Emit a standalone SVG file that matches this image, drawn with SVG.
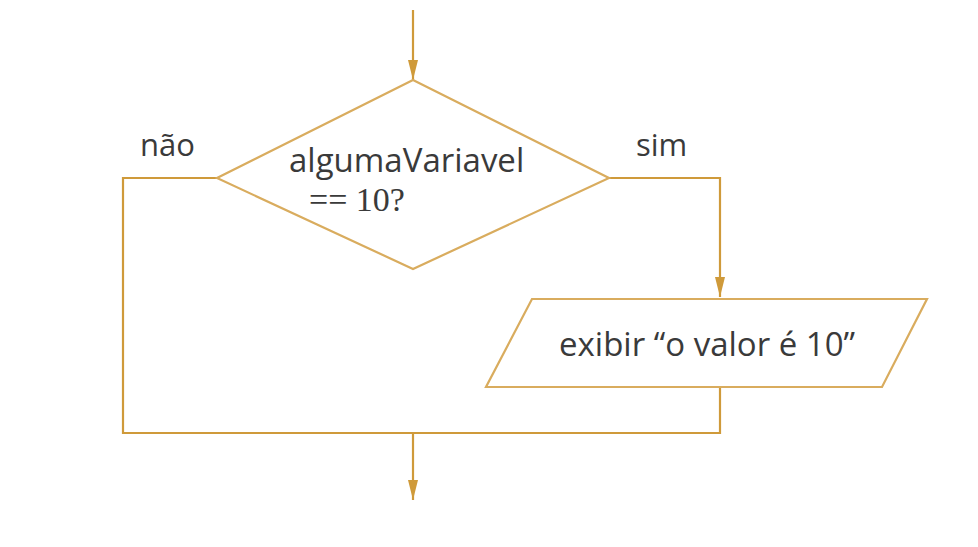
<svg xmlns="http://www.w3.org/2000/svg" width="978" height="547" viewBox="0 0 978 547">
<style>
.ln{fill:none;stroke:#cf9a3a;stroke-width:2.2}
.sh{fill:#fff;stroke:#d9ac5e;stroke-width:2.2}
.t{font-family:"Open Sans","Noto Sans",sans-serif;fill:#3a3a3a}
.s{font-family:"Liberation Serif",serif;font-size:34px;fill:#3a3a3a}
</style>
<defs>
<marker id="ah2" viewBox="0 0 20 12" refX="20" refY="6" markerWidth="20" markerHeight="12" markerUnits="userSpaceOnUse" orient="auto">
<path d="M0,1 L20,6 L0,11 Z" fill="#cf9a3a"/>
</marker>
</defs>
<rect width="978" height="547" fill="#fff"/>
<g id="connectors">
<line class="ln" x1="413" y1="10" x2="413" y2="80" marker-end="url(#ah2)"/>
<polyline class="ln" points="609,178 720,178 720,297" marker-end="url(#ah2)"/>
<polyline class="ln" points="217,178 123,178 123,433 720,433 720,386"/>
<line class="ln" x1="413" y1="433" x2="413" y2="500" marker-end="url(#ah2)"/>
</g>
<g id="decision">
<polygon class="sh" points="413,80 609,178 413,269 217,178"/>
<text class="t" x="289" y="172" font-size="33">algumaVariavel</text>
<text class="s" x="309" y="211">== 10?</text>
</g>
<g id="label-nao"><text class="t" x="140" y="156" font-size="31">não</text></g>
<g id="label-sim"><text class="t" x="636" y="156" font-size="31">sim</text></g>
<g id="output">
<polygon class="sh" points="532,299 927,299 882,387 486,387"/>
<text class="t" x="559" y="356" font-size="33">exibir “o valor é 10”</text>
</g>
</svg>
